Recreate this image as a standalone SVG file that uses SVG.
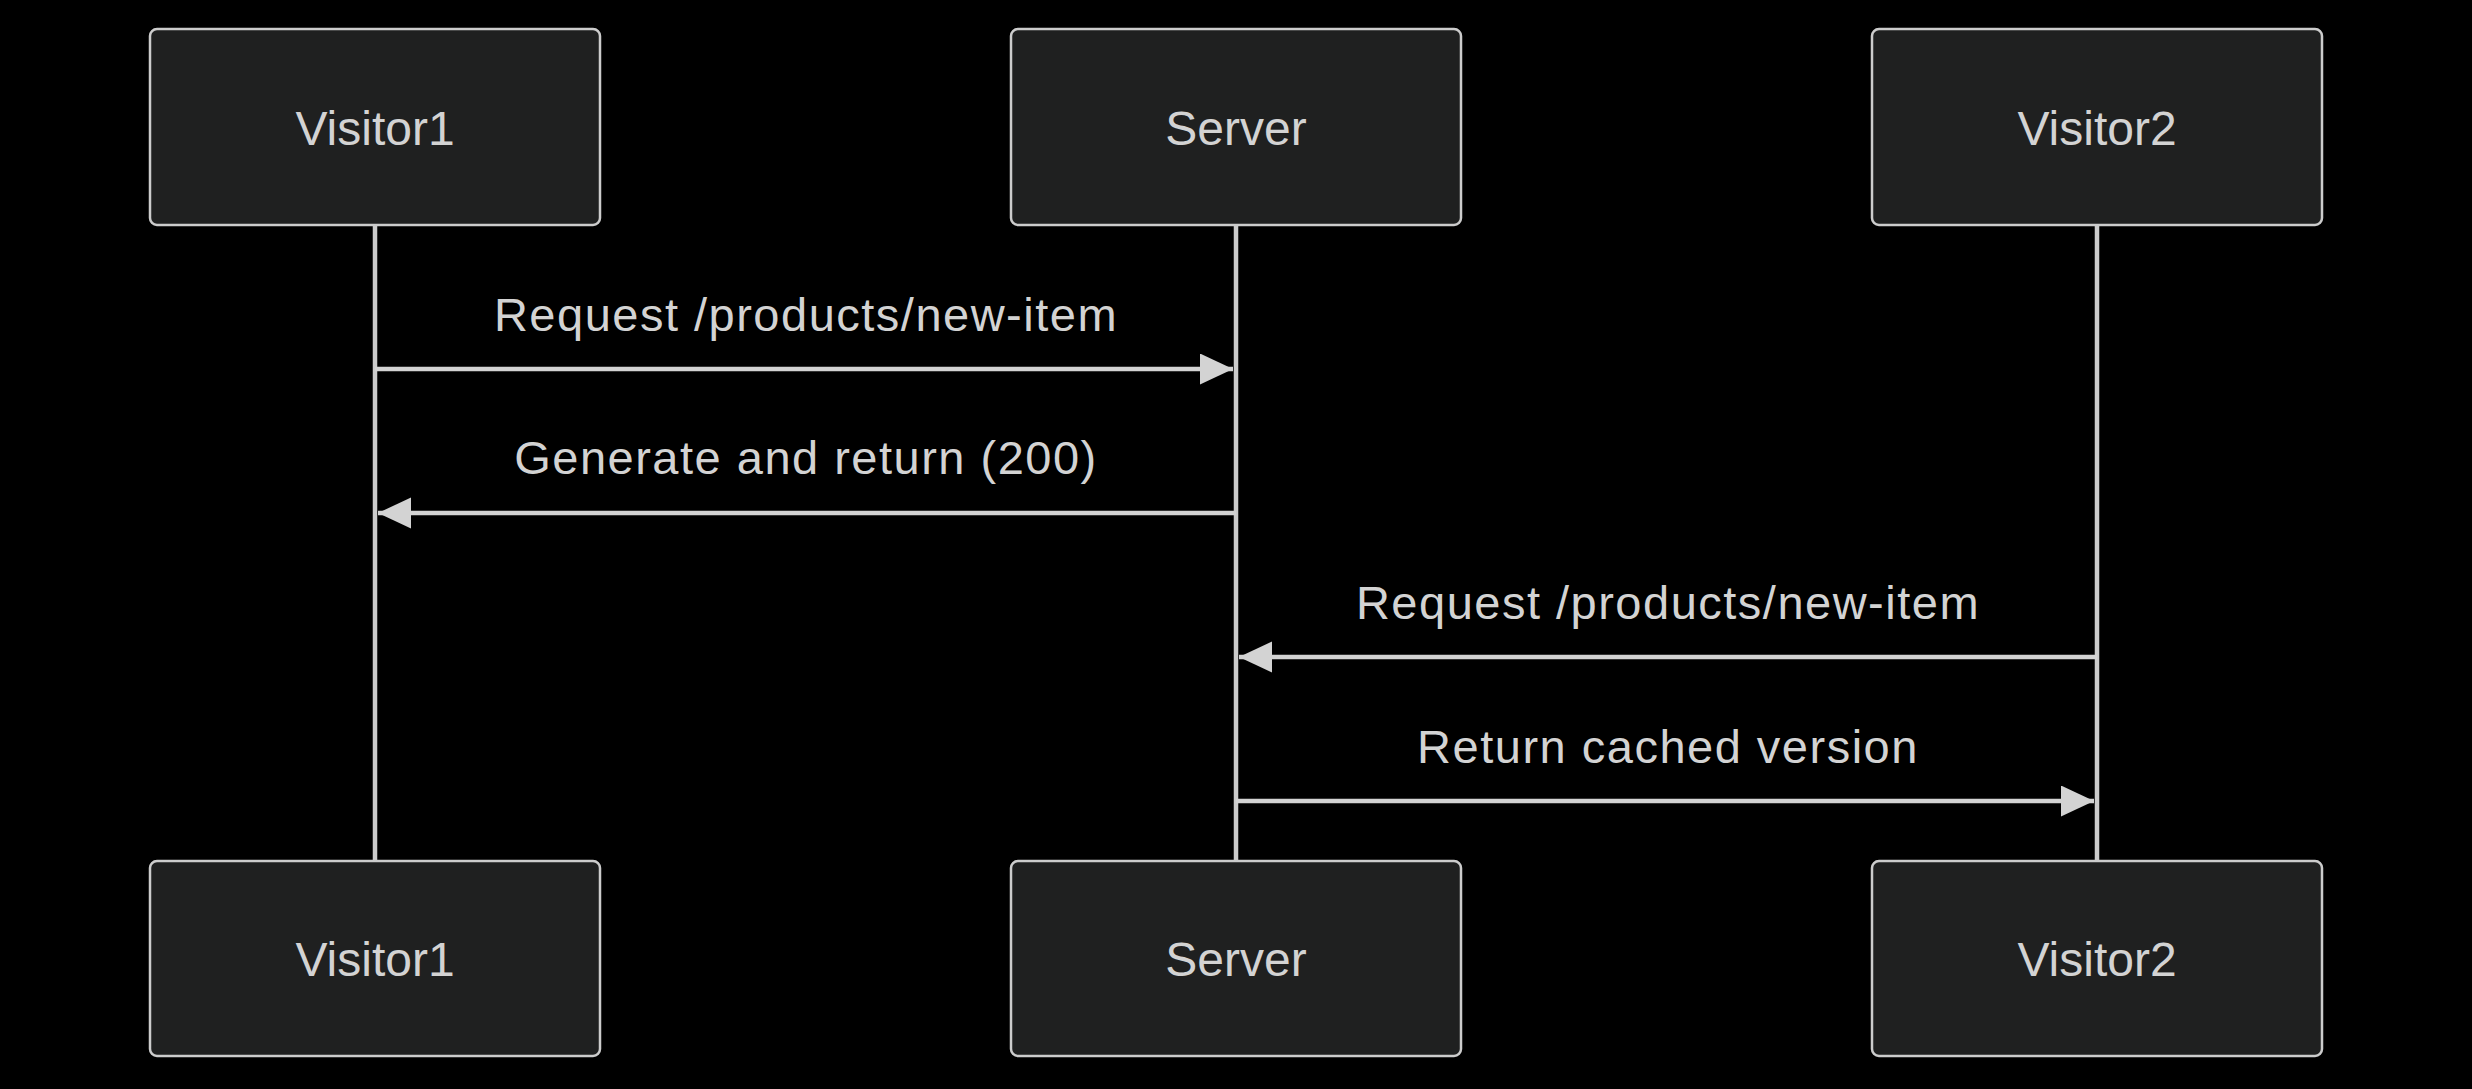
<svg xmlns="http://www.w3.org/2000/svg" width="2472" height="1089" viewBox="0 0 2472 1089">
<style>
.actor{fill:#1f2020;stroke:#cccccc;stroke-width:2.5}
.label{font-family:"Liberation Sans",Arial,sans-serif;font-size:48px;fill:#d3d3d3;text-anchor:middle}
.life{stroke:#cccccc;stroke-width:4.5}
.msg{stroke:#d3d3d3;stroke-width:4.5;fill:none;marker-end:url(#arrow)}
.mtext{font-family:"Liberation Sans",Arial,sans-serif;font-size:47px;letter-spacing:1.5px;fill:#d3d3d3;text-anchor:middle}
</style>
<defs>
<marker id="arrow" markerUnits="userSpaceOnUse" markerWidth="34" markerHeight="32" refX="33" refY="15.5" orient="auto">
<path d="M0,0 L33,15.5 L0,31 z" fill="#d3d3d3"/>
</marker>
</defs>
<rect x="0" y="0" width="2472" height="1089" fill="#000000"/>
<g id="lifelines">
<line class="life" x1="375" y1="225" x2="375" y2="861"/>
<line class="life" x1="1236" y1="225" x2="1236" y2="861"/>
<line class="life" x1="2097" y1="225" x2="2097" y2="861"/>
</g>
<g id="visitor1-top"><rect class="actor" x="150" y="29" width="450" height="196" rx="7"/><text class="label" x="375" y="145">Visitor1</text></g>
<g id="server-top"><rect class="actor" x="1011" y="29" width="450" height="196" rx="7"/><text class="label" x="1236" y="145">Server</text></g>
<g id="visitor2-top"><rect class="actor" x="1872" y="29" width="450" height="196" rx="7"/><text class="label" x="2097" y="145">Visitor2</text></g>
<g id="visitor1-bottom"><rect class="actor" x="150" y="861" width="450" height="195" rx="7"/><text class="label" x="375" y="976">Visitor1</text></g>
<g id="server-bottom"><rect class="actor" x="1011" y="861" width="450" height="195" rx="7"/><text class="label" x="1236" y="976">Server</text></g>
<g id="visitor2-bottom"><rect class="actor" x="1872" y="861" width="450" height="195" rx="7"/><text class="label" x="2097" y="976">Visitor2</text></g>
<g id="connectors">
<line class="msg" x1="375" y1="369" x2="1233" y2="369"/>
<text class="mtext" x="806" y="331">Request /products/new-item</text>
<line class="msg" x1="1236" y1="513" x2="378" y2="513"/>
<text class="mtext" x="806" y="474">Generate and return (200)</text>
<line class="msg" x1="2097" y1="657" x2="1239" y2="657"/>
<text class="mtext" x="1668" y="619">Request /products/new-item</text>
<line class="msg" x1="1236" y1="801" x2="2094" y2="801"/>
<text class="mtext" x="1668" y="763">Return cached version</text>
</g>
</svg>
